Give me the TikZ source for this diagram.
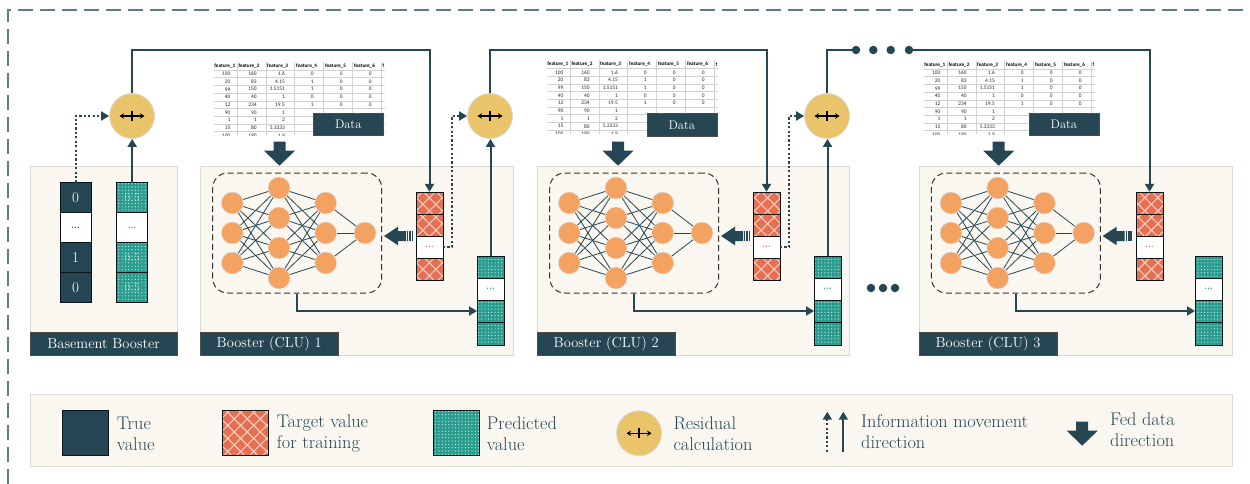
\documentclass[tikz,border=0pt]{standalone}
\usepackage{fontspec}
\newfontfamily\tabfont{Carlito}
\usetikzlibrary{arrows.meta,patterns.meta,calc}

\definecolor{navy}{HTML}{264653}
\definecolor{nnorange}{HTML}{F4A261}
\definecolor{ryellow}{HTML}{E9C46A}
\definecolor{tred}{HTML}{E76F51}
\definecolor{tteal}{HTML}{2A9D8F}
\definecolor{cream}{HTML}{FAF7F0}
\definecolor{panelline}{HTML}{DEDAD2}
\definecolor{framegray}{HTML}{5E7C87}
\definecolor{tpink}{HTML}{F6CDBF}
\definecolor{tdot}{HTML}{D8F0EC}

\tikzset{
  panel/.style={fill=cream, draw=panelline, line width=0.9pt, inner sep=0, anchor=north west},
  tag/.style={fill=navy, draw=black!70, text=white, inner sep=0, anchor=south west,
    minimum height=22.5pt, font=\fontsize{14.5}{16}\selectfont},
  cellline/.style={draw=black!70!navy, line width=0.8pt},
  colnode/.style={inner sep=0, draw=none, rectangle},
  neuron/.style={circle, fill=nnorange, draw=black!12, line width=0.6pt, minimum size=22pt, inner sep=0},
  syn/.style={draw=navy, line width=0.8pt},
  nnframe/.style={draw=black!80, dash pattern=on 6pt off 3.5pt, line width=1pt, rounded corners=15pt, inner sep=0},
  resid/.style={circle, fill=ryellow, draw=black!15, line width=0.8pt, minimum size=45pt, inner sep=0},
  info/.style={draw=navy, line width=2pt, -{Triangle[length=8pt,width=9pt]}},
  infodot/.style={info, dash pattern=on 2.2pt off 2.2pt},
  plain/.style={draw=navy, line width=2pt},
  bigdot/.style={circle, fill=navy, minimum size=8.5pt, inner sep=0},
  databox/.style={fill=navy, draw=black!70, text=white, inner sep=0, anchor=north west,
    minimum height=22.5pt, font=\fontsize{12.5}{14}\selectfont},
  legtext/.style={anchor=west, inner sep=0, align=left, text=navy, font=\fontsize{18.3}{21}\selectfont},
  hdr/.style={font=\tabfont\bfseries\fontsize{5.2}{5}\selectfont, inner sep=0, anchor=west},
  num/.style={font=\tabfont\fontsize{5.4}{5}\selectfont, inner sep=0, anchor=east, text=black!85},
  celltext/.style={inner sep=0, text=white, font=\fontsize{15}{15}\selectfont},
}

% patterned cells
\newcommand\redrect[4]{%
  \fill[tred] (#1,#2) rectangle (#3,#4);
  \fill[pattern={Lines[angle=45,distance=9.2pt,line width=1.1pt]}, pattern color=tpink] (#1,#2) rectangle (#3,#4);
  \fill[pattern={Lines[angle=-45,distance=9.2pt,line width=1.1pt]}, pattern color=tpink] (#1,#2) rectangle (#3,#4);
  \draw[cellline] (#1,#2) rectangle (#3,#4);}
\newcommand\tealrect[4]{%
  \fill[tteal] (#1,#2) rectangle (#3,#4);
  \fill[pattern={Dots[radius=0.6pt,distance=3.3pt]}, pattern color=tdot] (#1,#2) rectangle (#3,#4);
  \draw[cellline] (#1,#2) rectangle (#3,#4);}
\newcommand\navyrect[4]{\filldraw[fill=navy, cellline] (#1,#2) rectangle (#3,#4);}
\newcommand\blankrect[5]{%
  \filldraw[fill=white, cellline] (#1,#2) rectangle (#3,#4);
  \node[inner sep=0, text=#5, font=\bfseries\fontsize{9}{9}\selectfont] at ($(#1,#2)!0.5!(#3,#4)$) {...};}

% target-value column of a booster
\newcommand\tgtcol[3]{%
  \begin{scope}[shift={(#2,#3)}]
    \redrect{0}{0}{27}{22}
    \redrect{0}{22}{27}{44}
    \blankrect{0}{44}{27}{66}{tred}
    \redrect{0}{66}{27}{88}
    \node[colnode, minimum width=27pt, minimum height=88pt] (#1) at (13.5,44) {};
    \coordinate (#1-gap) at (27,55);
  \end{scope}}

% predicted-value column of a booster
\newcommand\predcol[3]{%
  \begin{scope}[shift={(#2,#3)}]
    \tealrect{0}{0}{27}{22}
    \blankrect{0}{22}{27}{44}{tteal}
    \tealrect{0}{44}{27}{66}
    \tealrect{0}{66}{27}{89}
    \node[colnode, minimum width=27pt, minimum height=89pt] (#1) at (13.5,44.5) {};
    \coordinate (#1-in) at (0,55);
  \end{scope}}

% small neural network inside a booster
\newcommand\nnet[2]{%
  \begin{scope}[shift={(#2,0)}]
    \node[nnframe, minimum width=169pt, minimum height=120pt] (#1f) at (97.2,233) {};
    \foreach \k/\yy in {1/203,2/233,3/263} {\node[neuron] (#1a\k) at (32.3,\yy) {};}
    \foreach \k/\yy in {1/188,2/218,3/248,4/278} {\node[neuron] (#1b\k) at (79,\yy) {};}
    \foreach \k/\yy in {1/203,2/233,3/263} {\node[neuron] (#1c\k) at (125.7,\yy) {};}
    \node[neuron] (#1o) at (165,233) {};
    \foreach \i in {1,2,3} {\foreach \j in {1,2,3,4} {%
      \draw[syn] (#1a\i) -- (#1b\j);
      \draw[syn] (#1b\j) -- (#1c\i);}}
    \foreach \i in {1,2,3} {\draw[syn] (#1c\i) -- (#1o);}
  \end{scope}}

% residual symbol inside a circle
\newcommand\ressym[1]{%
  \draw[line width=1.5pt, {Stealth[length=4.5pt,width=5.5pt]}-{Stealth[length=4.5pt,width=5.5pt]}]
    ($(#1)+(-12.5,0)$) -- ($(#1)+(12.5,0)$);
  \draw[line width=2.8pt] ($(#1)+(0,-5)$) -- ($(#1)+(0,5)$);}

% thick downward arrow for fed data
\newcommand\fedarrow[2]{%
  \fill[navy] (#1-6,#2) -- (#1+6,#2) -- (#1+6,#2+9) -- (#1+15.5,#2+9) -- (#1,#2+24)
    -- (#1-15.5,#2+9) -- (#1-6,#2+9) -- cycle;}

% thick leftward arrow with striped tail
\newcommand\pusharrow[2]{%
  \fill[navy] (#1,#2) -- (#1+14,#2-9.3) -- (#1+14,#2-5) -- (#1+22,#2-5) -- (#1+22,#2+5)
    -- (#1+14,#2+5) -- (#1+14,#2+9.3) -- cycle;
  \foreach \s in {22.8,25.2,27.6} {\fill[navy] (#1+\s,#2-5) rectangle ++(1.6,10);}}

% spreadsheet excerpt; the lower right block sits under the Data label
\newcommand\datatable[2]{%
  \begin{scope}[shift={(#1,#2)}]
    \begin{scope}
      \clip (0,0) rectangle (171,73.5);
      \fill[white] (0,0) rectangle (171,73.5);
      \foreach \yy in {8,15.7,23.4,31.1,38.8,46.5,54.2,61.9,69.6} {\draw[black!18, line width=0.4pt] (0,\yy) -- (171,\yy);}
      \foreach \xx in {23,51.7,80.3,109.3,138,167} {\draw[black!18, line width=0.4pt] (\xx,0) -- (\xx,73.5);}
      \foreach \xx/\t in {0.2/feature\_1,24.3/feature\_2,53/feature\_3,82/feature\_4,110.8/feature\_5,139.8/feature\_6,168.5/f}
        {\node[hdr] at (\xx,4) {\t};}
      \foreach \r/\va/\vb/\vc/\vd/\ve/\vf in {1/100/160/1.6/0/0/0, 2/20/83/4.15/1/0/0, 3/99/150/1.5151/1/0/0,
          4/40/40/1/0/0/0, 5/12/234/19.5/1/0/0} {
        \pgfmathsetmacro\yy{8+(\r-0.5)*7.7}
        \node[num] at (16.5,\yy) {\va};
        \node[num] at (42.7,\yy) {\vb};
        \node[num] at (71,\yy) {\vc};
        \node[num] at (99.7,\yy) {\vd};
        \node[num] at (128.7,\yy) {\ve};
        \node[num] at (157.7,\yy) {\vf};
      }
      \foreach \r/\va/\vb/\vc in {6/90/90/1, 7/1/1/2, 8/15/80/5.3333, 9/100/190/1.9} {
        \pgfmathsetmacro\yy{8+(\r-0.5)*7.7}
        \node[num] at (16.5,\yy) {\va};
        \node[num] at (42.7,\yy) {\vb};
        \node[num] at (71,\yy) {\vc};
      }
    \end{scope}
  \end{scope}}

\begin{document}
\begin{tikzpicture}[x=1pt,y=-1pt]
\useasboundingbox (0,0) rectangle (1250,484);

% outer dashed frame
\draw[framegray, line width=1.3pt, dash pattern=on 15pt off 7pt] (8,484) -- (8,10) -- (1250,10);

\coordinate (topy) at (0,50);

% panels
\node[panel, minimum width=147pt, minimum height=189pt] (bpanel) at (30,166) {};
\node[panel, minimum width=312.7pt, minimum height=189pt] (panel1) at (200,166) {};
\node[panel, minimum width=312pt, minimum height=189pt] (panel2) at (537,166) {};
\node[panel, minimum width=313pt, minimum height=189pt] (panel3) at (918.7,166) {};
\node[tag, minimum width=147pt] (tag0) at (30,355) {Basement Booster};
\node[tag, minimum width=138pt] (tag1) at (200,355) {Booster (CLU) 1};
\node[tag, minimum width=138pt] (tag2) at (537,355) {Booster (CLU) 2};
\node[tag, minimum width=138.3pt] (tag3) at (918.7,355) {Booster (CLU) 3};

% basement booster columns
\navyrect{60}{182.7}{91}{212.7}
\blankrect{60}{212.7}{91}{242.7}{navy}
\navyrect{60}{242.7}{91}{272.7}
\navyrect{60}{272.7}{91}{302.7}
\node[celltext] at (75.5,197.7) {0};
\node[celltext] at (75.5,257.7) {1};
\node[celltext] at (75.5,287.7) {0};
\node[colnode, minimum width=31pt, minimum height=120pt] (tv) at (75.5,242.7) {};

\tealrect{116.7}{182.7}{147.7}{212.7}
\blankrect{116.7}{212.7}{147.7}{242.7}{tteal}
\tealrect{116.7}{242.7}{147.7}{272.7}
\tealrect{116.7}{272.7}{147.7}{302.7}
\foreach \yy in {197.7,257.7,287.7} {\node[celltext, text opacity=0.55, font=\fontsize{12}{12}\selectfont] at (132.2,\yy) {0.5};}
\node[colnode, minimum width=31pt, minimum height=120pt] (bp) at (132.2,242.7) {};

% boosters
\nnet{n1}{200}
\nnet{n2}{537}
\nnet{n3}{918.7}
\tgtcol{t1}{416}{192}
\tgtcol{t2}{753}{192}
\tgtcol{t3}{1136}{192}
\predcol{p1}{477}{256}
\predcol{p2}{814}{256}
\predcol{p3}{1195}{256}
\pusharrow{384}{236}
\pusharrow{721}{236}
\pusharrow{1102.7}{236}

% residual calculations
\node[resid] (r1) at (132,116) {};
\node[resid] (r2) at (490,116) {};
\node[resid] (r3) at (827,116) {};
\ressym{r1}
\ressym{r2}
\ressym{r3}

% data excerpts
\datatable{214}{62}
\datatable{547}{60.5}
\datatable{924}{61}
\node[databox, minimum width=70pt] (data1) at (313,112.7) {Data};
\node[databox, minimum width=70pt] (data2) at (646.5,113.5) {Data};
\node[databox, minimum width=70pt] (data3) at (1028.7,113) {Data};
\fedarrow{279.5}{141.7}
\fedarrow{618}{141.7}
\fedarrow{998.7}{141.7}

% continuation dots
\node[bigdot] (d1) at (856,50) {};
\node[bigdot] (d2) at (873.3,50) {};
\node[bigdot] (d3) at (890.7,50) {};
\node[bigdot] (d4) at (909,50) {};
\node[bigdot] (e1) at (871,288) {};
\node[bigdot] (e2) at (883,288) {};
\node[bigdot] (e3) at (895,288) {};

% information flow: basement booster
\draw[infodot] (tv.north) |- (r1.west);
\draw[info] (bp.north) -- (bp.north |- r1.south);
\draw[info] (r1.north) -- (r1.north |- topy) -| (t1.north);

% information flow: booster 1
\draw[infodot] (t1-gap) -- ++(9,0) |- (r2.west);
\draw[info] (n1f.south) |- (p1-in);
\draw[info] (p1.north) -- (p1.north |- r2.south);
\draw[info] (r2.north) -- (r2.north |- topy) -| (t2.north);

% information flow: booster 2
\draw[infodot] (t2-gap) -- ++(9,0) |- (r3.west);
\draw[info] (n2f.south) |- (p2-in);
\draw[info] (p2.north) -- (p2.north |- r3.south);
\draw[plain] (r3.north) |- (d1);
\draw[info] (d4) -| (t3.north);

% information flow: booster 3
\draw[info] (n3f.south) |- (p3-in);

% legend
\node[panel, minimum width=1202pt, minimum height=72pt] (legend) at (30,394) {};
\filldraw[fill=navy, cellline] (62.3,410) rectangle (108.3,455);
\node[colnode, minimum width=46pt, minimum height=45pt] (lgT) at (85.3,432.5) {};
\node[legtext] (lt1) at (116.7,433.5) {True\\value};
\redrect{222.3}{410}{268.3}{455}
\node[colnode, minimum width=46pt, minimum height=45pt] (lgG) at (245.3,432.5) {};
\node[legtext] (lt2) at (276.7,433.5) {Target value\\for training};
\tealrect{433.3}{410}{479}{455}
\node[colnode, minimum width=46pt, minimum height=45pt] (lgP) at (456.2,432.5) {};
\node[legtext] (lt3) at (486.7,433.5) {Predicted\\value};
\node[resid] (lgR) at (639,433.3) {};
\ressym{lgR}
\node[legtext] (lt4) at (673.3,433.5) {Residual\\calculation};
\coordinate (la1) at (827.3,451.7);
\coordinate (la2) at (827.3,411.7);
\coordinate (lb1) at (843.3,451.7);
\coordinate (lb2) at (843.3,411.7);
\draw[infodot] (la1) -- (la2);
\draw[info] (lb1) -- (lb2);
\node[legtext] (lt5) at (861,431.5) {Information movement\\direction};
\fedarrow{1082.2}{421.7}
\node[legtext] (lt6) at (1110,429.5) {Fed data\\direction};
\end{tikzpicture}
\end{document}
